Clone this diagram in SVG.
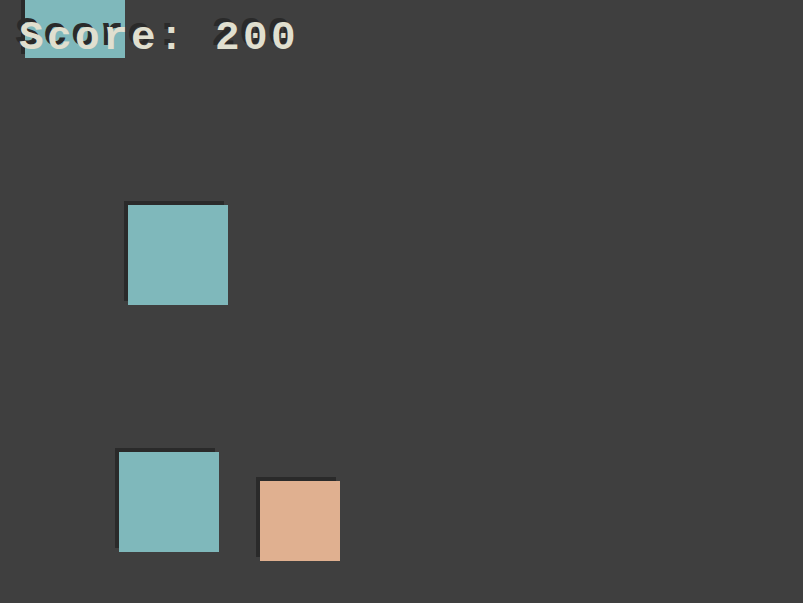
<svg xmlns="http://www.w3.org/2000/svg" width="803" height="603" viewBox="0 0 803 603">
<style>
.sh{fill:#2a2a2a}
.teal{fill:#7fb8bb}
.peach{fill:#e0b090}
.t{font-family:"Liberation Mono","DejaVu Sans Mono",monospace;font-size:41px;font-weight:bold;letter-spacing:3.4px}
</style>
<rect width="803" height="603" fill="#3f3f3f"/>
<g id="block-top">
<rect class="sh" x="21" y="-46" width="100" height="100"/>
<rect class="teal" x="25" y="-42" width="100" height="100"/>
</g>
<g id="block-1">
<rect class="sh" x="124" y="201" width="100" height="100"/>
<rect class="teal" x="128" y="205" width="100" height="100"/>
</g>
<g id="block-2">
<rect class="sh" x="115" y="448" width="100" height="100"/>
<rect class="teal" x="119" y="452" width="100" height="100"/>
</g>
<g id="block-3">
<rect class="sh" x="256" y="477" width="80" height="80"/>
<rect class="peach" x="260" y="481" width="80" height="80"/>
</g>
<g id="score">
<text class="t" x="15" y="45" fill="#2a2a2a">Score: 200</text>
<text class="t" x="19" y="49" fill="#e0dfcf">Score: 200</text>
</g>
</svg>
